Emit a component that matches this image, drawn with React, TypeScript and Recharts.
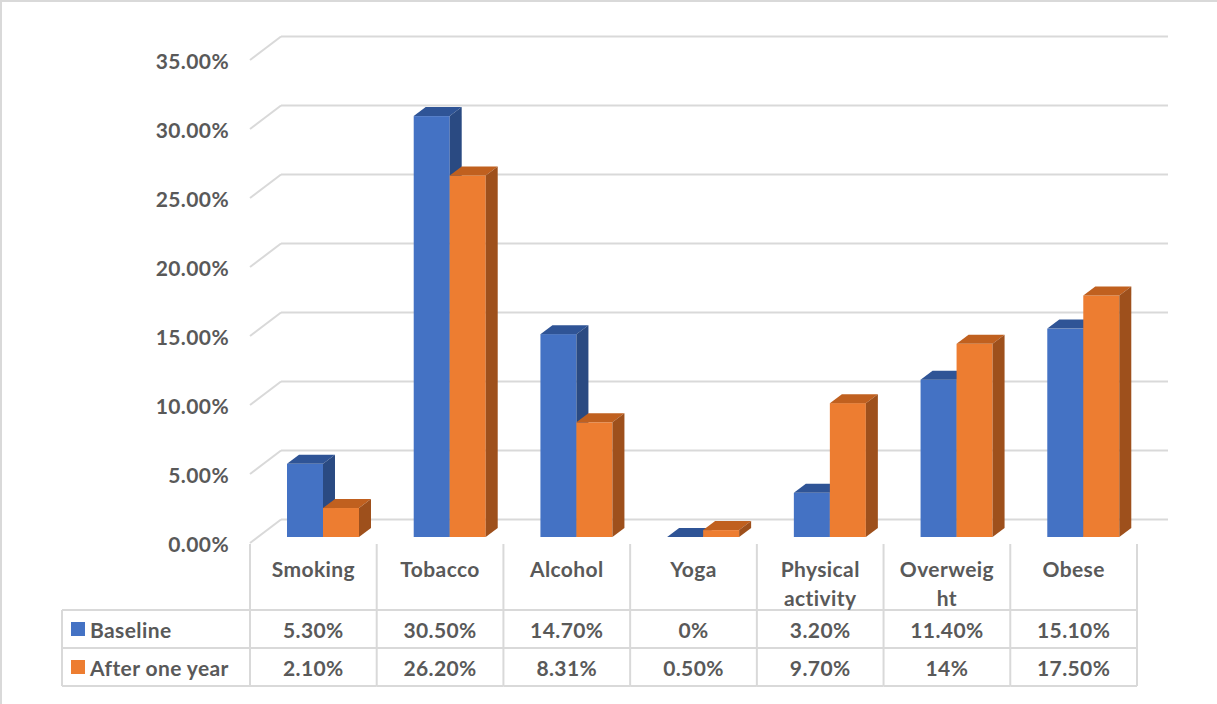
import { Bar, BarChart, CartesianGrid, XAxis, YAxis } from "recharts";

const CATEGORIES = ["Smoking", "Tobacco", "Alcohol", "Yoga", "Physical activity", "Overweight", "Obese"];
// how the category names wrap in the table header
const CATEGORY_LINES = [["Smoking"], ["Tobacco"], ["Alcohol"], ["Yoga"], ["Physical", "activity"], ["Overweig", "ht"], ["Obese"]];
const BASELINE = [5.3, 30.5, 14.7, 0, 3.2, 11.4, 15.1];
const AFTER_ONE_YEAR = [2.1, 26.2, 8.31, 0.5, 9.7, 14, 17.5];
const BASELINE_LABELS = ["5.30%", "30.50%", "14.70%", "0%", "3.20%", "11.40%", "15.10%"];
const AFTER_LABELS = ["2.10%", "26.20%", "8.31%", "0.50%", "9.70%", "14%", "17.50%"];
const Y_TICKS = [0, 5, 10, 15, 20, 25, 30, 35];

const data = CATEGORIES.map((name, i) => ({
  name,
  baseline: BASELINE[i],
  after: AFTER_ONE_YEAR[i],
}));

const TEXT = "#595959";
const LINE = "#D9D9D9";
const FONT = "Lato, 'Open Sans', sans-serif";
const FONT_SIZE = 21;
const SPACING = 0.4;

// 3d offsets relative to the plane the bars stand on
const DEPTH_X = 12;
const DEPTH_Y = -9;
const BACK_X = 21;
const BACK_Y = -17.5;
const FRONT_X = -10;
const FRONT_Y = 6;

// table geometry
const COL_W = 126.7;
const TABLE_LEFT = 62;
const HEAD_TOP = 544;
const ROW1 = 610;
const ROW2 = 648;
const ROW3 = 686;

const makeBar = (front: string, top: string, side: string) => (props: any) => {
  const { x, y, width, height } = props;
  const h = Math.max(0, height || 0);
  return (
    <g>
      <rect x={x} y={y} width={width} height={h} fill={front} />
      <polygon
        points={`${x},${y} ${x + DEPTH_X},${y + DEPTH_Y} ${x + width + DEPTH_X},${y + DEPTH_Y} ${x + width},${y}`}
        fill={top}
      />
      <polygon
        points={`${x + width},${y} ${x + width + DEPTH_X},${y + DEPTH_Y} ${x + width + DEPTH_X},${y + h + DEPTH_Y} ${x + width},${y + h}`}
        fill={side}
      />
    </g>
  );
};

const BlueBar = makeBar("#4472C4", "#2F5496", "#2A4A82");
const OrangeBar = makeBar("#ED7D31", "#C0601F", "#9E501C");

const GridLine = (props: any) => {
  const { x1, x2, y1 } = props;
  return (
    <g key={props.key ?? `${y1}`}>
      <line x1={x1 + FRONT_X} y1={y1 + FRONT_Y} x2={x1 + BACK_X} y2={y1 + BACK_Y} stroke={LINE} strokeWidth={2} />
      <line x1={x1 + BACK_X} y1={y1 + BACK_Y} x2={x2 + BACK_X} y2={y1 + BACK_Y} stroke={LINE} strokeWidth={2} />
    </g>
  );
};

const YTick = (props: any) => {
  const { y, payload } = props;
  return (
    <text x={229} y={y + FRONT_Y} textAnchor="end" dominantBaseline="central" fill={TEXT} fontSize={FONT_SIZE} fontWeight={700} fontFamily={FONT} letterSpacing={SPACING}>
      {`${payload.value.toFixed(2)}%`}
    </text>
  );
};

const TableColumn = (props: any) => {
  const { x, index } = props;
  const cx = x + FRONT_X;
  const left = cx - COL_W / 2;
  const right = cx + COL_W / 2;
  const lines = CATEGORY_LINES[index];
  const textProps = {
    fill: TEXT,
    fontSize: FONT_SIZE,
    fontWeight: 700,
    fontFamily: FONT,
    letterSpacing: SPACING,
    textAnchor: "middle" as const,
    dominantBaseline: "central" as const,
  };
  return (
    <g>
      {index === 0 && (
        <g>
          <line x1={TABLE_LEFT} y1={ROW1} x2={TABLE_LEFT} y2={ROW3} stroke={LINE} strokeWidth={2} />
          <line x1={TABLE_LEFT} y1={ROW1} x2={left} y2={ROW1} stroke={LINE} strokeWidth={2} />
          <line x1={TABLE_LEFT} y1={ROW2} x2={left} y2={ROW2} stroke={LINE} strokeWidth={2} />
          <line x1={TABLE_LEFT} y1={ROW3} x2={left} y2={ROW3} stroke={LINE} strokeWidth={2} />
          <rect x={71} y={622} width={14} height={14} fill="#4472C4" />
          <text x={90} y={629} {...textProps} textAnchor="start">Baseline</text>
          <rect x={71} y={660} width={14} height={14} fill="#ED7D31" />
          <text x={90} y={667} {...textProps} textAnchor="start">After one year</text>
          <line x1={left} y1={HEAD_TOP} x2={left} y2={ROW3} stroke={LINE} strokeWidth={2} />
        </g>
      )}
      <line x1={right} y1={HEAD_TOP} x2={right} y2={ROW3} stroke={LINE} strokeWidth={2} />
      <line x1={left} y1={ROW1} x2={right} y2={ROW1} stroke={LINE} strokeWidth={2} />
      <line x1={left} y1={ROW2} x2={right} y2={ROW2} stroke={LINE} strokeWidth={2} />
      <line x1={left} y1={ROW3} x2={right} y2={ROW3} stroke={LINE} strokeWidth={2} />
      {lines.map((l, i) => (
        <text key={l} x={cx} y={568 + i * 29} {...textProps}>{l}</text>
      ))}
      <text x={cx} y={629} {...textProps}>{BASELINE_LABELS[index]}</text>
      <text x={cx} y={667} {...textProps}>{AFTER_LABELS[index]}</text>
    </g>
  );
};

export default function App() {
  return (
    <div style={{ position: "absolute", left: 0, top: 0, width: 1217, height: 704, background: "#fff" }}>
      <BarChart
        width={1217}
        height={704}
        data={data}
        margin={{ top: 54, right: 70, bottom: 137, left: 200 }}
        barGap={0}
        barSize={36}
      >
        <line x1={1} y1={0} x2={1} y2={704} stroke={LINE} strokeWidth={2} />
        <line x1={0} y1={1} x2={1217} y2={1} stroke={LINE} strokeWidth={2} />
        <CartesianGrid vertical={false} horizontal={GridLine} />
        <XAxis dataKey="name" height={30} axisLine={false} tickLine={false} tick={TableColumn} interval={0} />
        <YAxis width={60} domain={[0, 35]} ticks={Y_TICKS} axisLine={false} tickLine={false} tick={YTick} />
        <Bar dataKey="baseline" name="Baseline" fill="#4472C4" shape={BlueBar} isAnimationActive={false} />
        <Bar dataKey="after" name="After one year" fill="#ED7D31" shape={OrangeBar} isAnimationActive={false} />
      </BarChart>
    </div>
  );
}
